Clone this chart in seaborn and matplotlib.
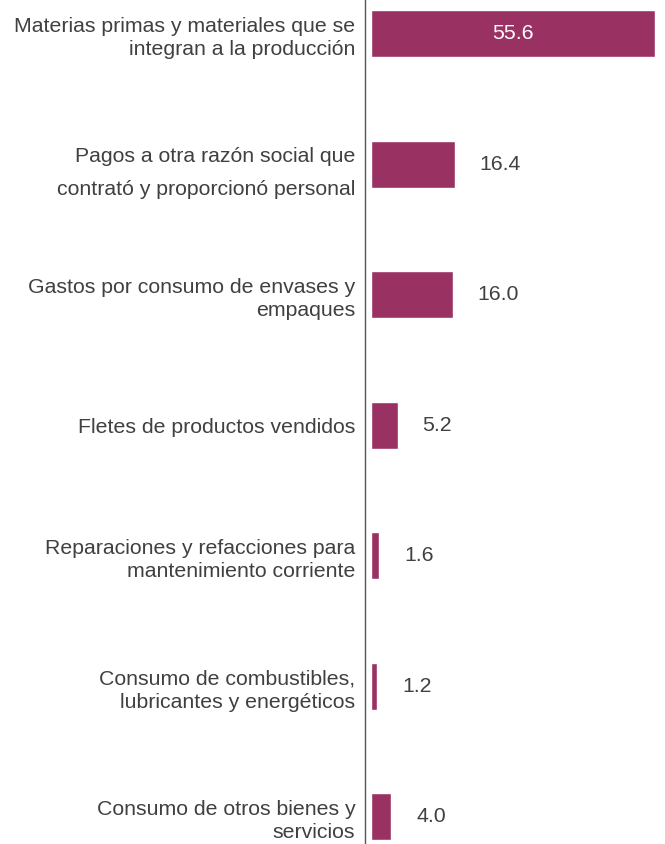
import matplotlib
matplotlib.use("Agg")
import matplotlib.pyplot as plt
import seaborn as sns
import pandas as pd

categories = [
    "Materias primas y materiales que se\nintegran a la producción",
    "Pagos a otra razón social que\ncontrató y proporcionó personal",
    "Gastos por consumo de envases y\nempaques",
    "Fletes de productos vendidos",
    "Reparaciones y refacciones para\nmantenimiento corriente",
    "Consumo de combustibles,\nlubricantes y energéticos",
    "Consumo de otros bienes y\nservicios",
]
values = [55.6, 16.4, 16.0, 5.2, 1.6, 1.2, 4.0]
value_labels = ["55.6", "16.4", "16.0", "5.2", "1.6", "1.2", "4.0"]

bar_color = "#9a3163"
text_color = "#404040"

sns.set_style("white")
plt.rcParams["font.family"] = ["Liberation Sans", "DejaVu Sans"]

df = pd.DataFrame({"cat": categories, "val": values})

fig = plt.figure(figsize=(6.65, 8.44), dpi=100)
ax = fig.add_axes([365 / 665, 0.0, 300 / 665, 1.0])

sns.barplot(data=df, y="cat", x="val", orient="h", color=bar_color,
            saturation=1, width=0.36, ax=ax)

ax.set_xlim(-1.17, 57.56)
ax.set_ylim(6.21, -0.257)
ax.set_xlabel("")
ax.set_ylabel("")
ax.set_xticks([])

for s in ["top", "right", "bottom"]:
    ax.spines[s].set_visible(False)
ax.spines["left"].set_color("#555555")
ax.spines["left"].set_linewidth(1.0)

ax.tick_params(axis="y", length=0, pad=7, labelsize=15.3, labelcolor=text_color)
for lbl in ax.get_yticklabels():
    lbl.set_horizontalalignment("right")
    if lbl.get_text().startswith("Pagos"):
        lbl.set_linespacing(1.95)
    else:
        lbl.set_linespacing(1.3)

container = ax.containers[0]
inside = [value_labels[0]] + [""] * (len(values) - 1)
outside = [""] + value_labels[1:]
ax.bar_label(container, labels=inside, label_type="center",
             color="white", fontsize=15.3)
ax.bar_label(container, labels=outside, padding=18,
             color=text_color, fontsize=15.3)

fig.savefig("out.png", dpi=100)
